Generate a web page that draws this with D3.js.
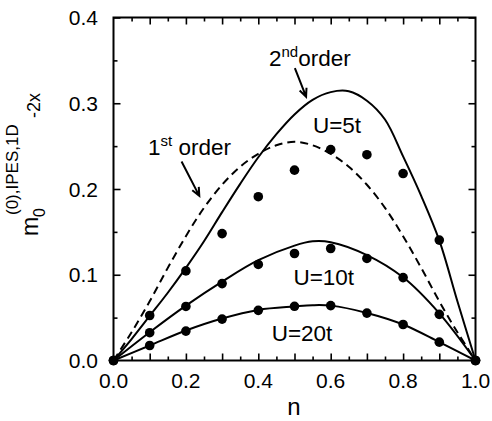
<!DOCTYPE html>
<html>
<head>
<meta charset="utf-8">
<script src="https://cdn.jsdelivr.net/npm/d3@7"></script>
<style>
  body { margin: 0; background: #fff; }
  svg { display: block; font-family: "Liberation Sans", Arial, sans-serif; }
</style>
</head>
<body>
<svg id="chart" width="492" height="421"></svg>
<script>
// curve samples
const nFine = [0, 0.05, 0.1, 0.15, 0.2, 0.25, 0.3, 0.35, 0.4, 0.45, 0.5, 0.55, 0.6, 0.65, 0.7, 0.75, 0.8, 0.85, 0.9, 0.95, 1.0];
const firstOrder = [0, 0.033, 0.069, 0.108, 0.145, 0.178, 0.205, 0.226, 0.241, 0.251, 0.255, 0.251, 0.241, 0.226, 0.205, 0.178, 0.145, 0.108, 0.069, 0.033, 0];
const secondU5 = [0, 0.025, 0.052, 0.079, 0.108, 0.139, 0.173, 0.206, 0.237, 0.264, 0.287, 0.304, 0.313, 0.314, 0.303, 0.281, 0.238, 0.192, 0.140, 0.069, 0];

const nCoarse = [0, 0.1, 0.2, 0.3, 0.4, 0.5, 0.55, 0.6, 0.7, 0.8, 0.9, 1.0];
const secondU10 = [0, 0.033, 0.064, 0.092, 0.117, 0.134, 0.139, 0.138, 0.123, 0.097, 0.055, 0];
const secondU20 = [0, 0.0175, 0.035, 0.049, 0.059, 0.063, 0.0645, 0.064, 0.0555, 0.042, 0.0215, 0];

// exact (dots)
const nDots = [0, 0.1, 0.2, 0.3, 0.4, 0.5, 0.6, 0.7, 0.8, 0.9, 1.0];
const dotsU5 = [0, 0.0525, 0.1045, 0.148, 0.191, 0.222, 0.246, 0.240, 0.218, 0.1404, 0];
const dotsU10 = [0, 0.0324, 0.063, 0.0897, 0.112, 0.1248, 0.1306, 0.119, 0.0967, 0.0538, 0];
const dotsU20 = [0, 0.0175, 0.0343, 0.0483, 0.0585, 0.0632, 0.064, 0.0553, 0.042, 0.0214, 0];

const xTicks = [0, 0.2, 0.4, 0.6, 0.8, 1.0];
const yTicks = [0, 0.1, 0.2, 0.3, 0.4];

const curveLabels = [
  { text: "U=5t", n: 0.551, v: 0.2657 },
  { text: "U=10t", n: 0.497, v: 0.088 },
  { text: "U=20t", n: 0.437, v: 0.0233 }
];

const svg = d3.select("#chart");
const x = d3.scaleLinear().domain([0, 1]).range([113.5, 475.5]);
const y = d3.scaleLinear().domain([0, 0.4]).range([360.5, 17.5]);

const line = d3.line()
  .x(d => x(d[0]))
  .y(d => y(d[1]))
  .curve(d3.curveCatmullRom.alpha(0.5));

function drawCurve(ns, vs, dash) {
  svg.append("path")
    .datum(d3.zip(ns, vs))
    .attr("d", line)
    .attr("fill", "none")
    .attr("stroke", "#000")
    .attr("stroke-width", 2)
    .attr("stroke-dasharray", dash || null);
}

drawCurve(nFine, firstOrder, "8,5");
drawCurve(nFine, secondU5);
drawCurve(nCoarse, secondU10);
drawCurve(nCoarse, secondU20);

[dotsU5, dotsU10, dotsU20].forEach(vs => {
  svg.append("g").selectAll("circle")
    .data(d3.zip(nDots, vs))
    .join("circle")
    .attr("cx", d => x(d[0]))
    .attr("cy", d => y(d[1]))
    .attr("r", 4.8)
    .attr("fill", "#000");
});

// axes, ticks inward on all four sides
function tickAxis(axis, scale, values, size, transform) {
  svg.append("g")
    .attr("transform", transform)
    .call(axis(scale).tickValues(values).tickSize(size).tickFormat(""))
    .call(g => g.select(".domain").remove())
    .call(g => g.selectAll("line").attr("stroke-width", 1.6));
}
const xMinor = d3.range(0.05, 1, 0.1);
const xMajor = d3.range(0.1, 1, 0.1);
const yMinor = d3.range(0.05, 0.4, 0.1);
const yMajor = d3.range(0.1, 0.4, 0.1);

tickAxis(d3.axisTop, x, xMajor, 7, `translate(0,${y(0)})`);
tickAxis(d3.axisTop, x, xMinor, 4, `translate(0,${y(0)})`);
tickAxis(d3.axisBottom, x, xMajor, 7, `translate(0,${y(0.4)})`);
tickAxis(d3.axisBottom, x, xMinor, 4, `translate(0,${y(0.4)})`);
tickAxis(d3.axisRight, y, yMajor, 7, `translate(${x(0)},0)`);
tickAxis(d3.axisRight, y, yMinor, 4, `translate(${x(0)},0)`);
tickAxis(d3.axisLeft, y, yMajor, 7, `translate(${x(1)},0)`);
tickAxis(d3.axisLeft, y, yMinor, 4, `translate(${x(1)},0)`);

svg.append("rect")
  .attr("x", x(0)).attr("y", y(0.4))
  .attr("width", x(1) - x(0)).attr("height", y(0) - y(0.4))
  .attr("fill", "none").attr("stroke", "#000").attr("stroke-width", 2);

svg.append("g").selectAll("text")
  .data(xTicks)
  .join("text")
  .attr("x", d => x(d))
  .attr("y", 388)
  .attr("text-anchor", "middle")
  .attr("font-size", 21)
  .text(d3.format(".1f"));

svg.append("g").selectAll("text")
  .data(yTicks)
  .join("text")
  .attr("x", 98)
  .attr("y", d => y(d) + 7.5)
  .attr("text-anchor", "end")
  .attr("font-size", 21)
  .text(d3.format(".1f"));

svg.append("text")
  .attr("x", 294).attr("y", 415)
  .attr("text-anchor", "middle")
  .attr("font-size", 24)
  .text("n");

// y axis title: m_0^{(0),IPES,1D} -2x, rotated
const yt = svg.append("g").attr("transform", "translate(38,236) rotate(-90)");
yt.append("text").attr("x", 0).attr("y", 0).attr("font-size", 23).text("m");
yt.append("text").attr("x", 19).attr("y", 7).attr("font-size", 16).text("0");
yt.append("text").attr("x", 21).attr("y", -20).attr("font-size", 17).text("(0),IPES,1D");
yt.append("text").attr("x", 118).attr("y", 2).attr("font-size", 18).text("-2x");

svg.append("g").selectAll("text")
  .data(curveLabels)
  .join("text")
  .attr("x", d => x(d.n))
  .attr("y", d => y(d.v))
  .attr("font-size", 22.5)
  .text(d => d.text);

// order annotations with arrows
function orderLabel(n, v, num, sup) {
  const t = svg.append("text")
    .attr("x", x(n)).attr("y", y(v))
    .attr("font-size", 22.5);
  t.append("tspan").text(num);
  t.append("tspan").attr("font-size", 15).attr("dy", -9).text(sup);
  t.append("tspan").attr("dy", 9).text(sup === "st" ? "\u00a0order" : "order");
}
orderLabel(0.4296, 0.3434, "2", "nd");
orderLabel(0.0953, 0.2397, "1", "st");

function arrow(n0, v0, n1, v1) {
  const x0 = x(n0), y0 = y(v0), x1 = x(n1), y1 = y(v1);
  const a = Math.atan2(y1 - y0, x1 - x0);
  const L = 9, w = 0.42;
  const p = d3.path();
  p.moveTo(x0, y0); p.lineTo(x1, y1);
  p.moveTo(x1 - L * Math.cos(a - w), y1 - L * Math.sin(a - w));
  p.lineTo(x1, y1);
  p.lineTo(x1 - L * Math.cos(a + w), y1 - L * Math.sin(a + w));
  svg.append("path")
    .attr("d", p.toString())
    .attr("fill", "none")
    .attr("stroke", "#000")
    .attr("stroke-width", 2);
}
arrow(0.501, 0.341, 0.532, 0.3076);
arrow(0.188, 0.232, 0.237, 0.192);
</script>
</body>
</html>
